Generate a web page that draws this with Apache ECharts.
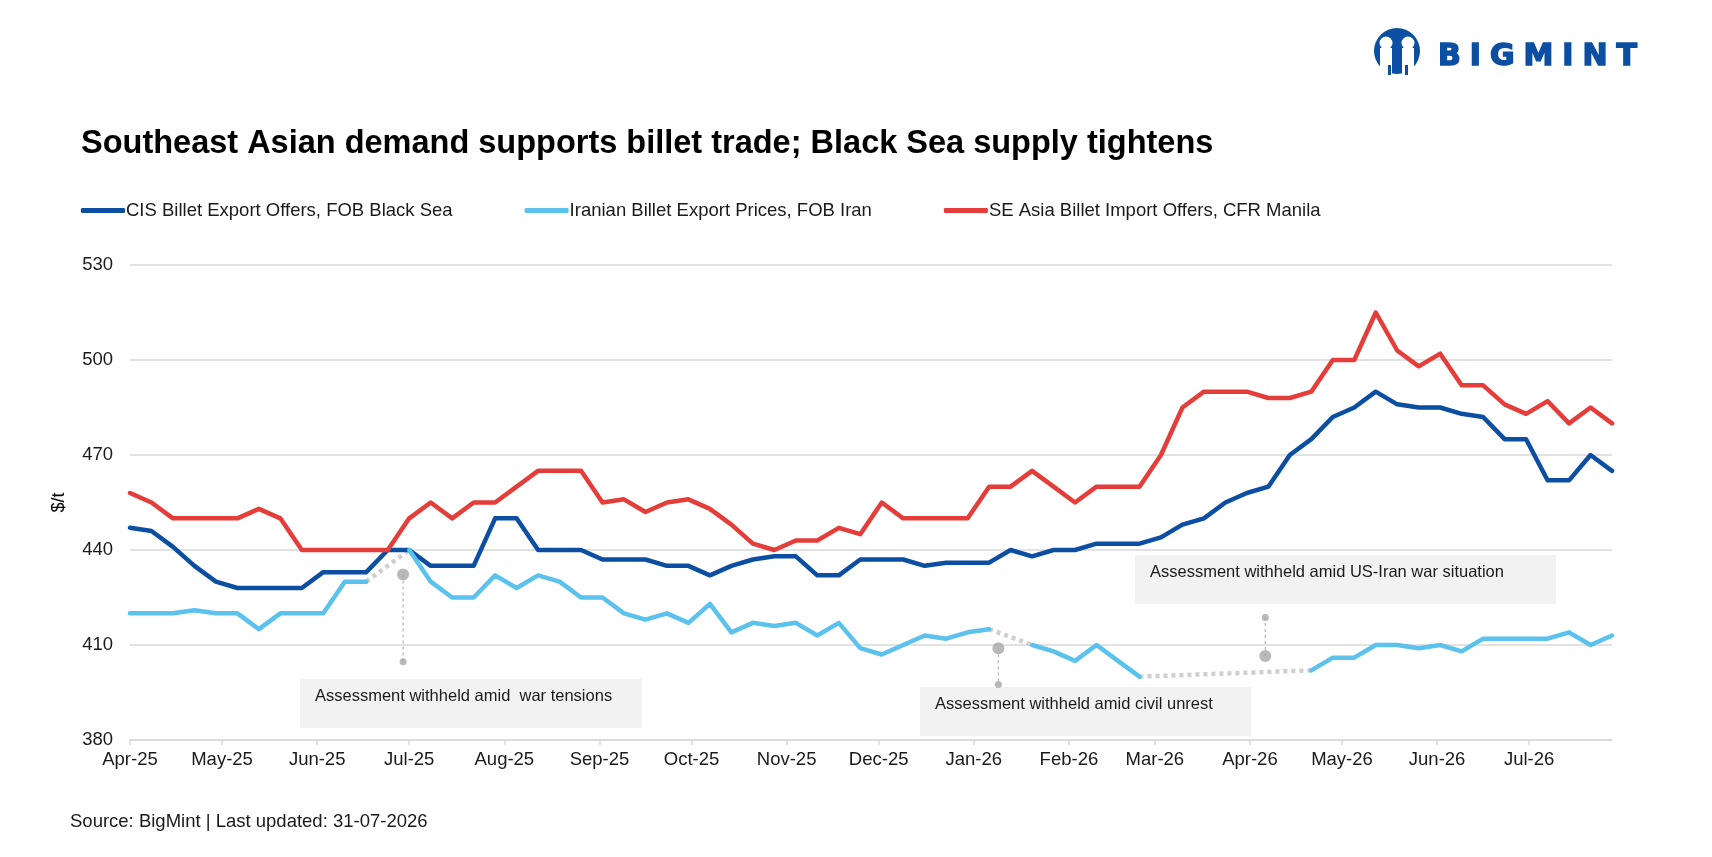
<!DOCTYPE html>
<html>
<head>
<meta charset="utf-8">
<title>Billet prices</title>
<script src="https://cdn.jsdelivr.net/npm/echarts@6/dist/echarts.min.js"></script>
<style>
	html, body { margin: 0; padding: 0; background: #fff; }
	#chart { width: 1712px; height: 857px; }
</style>
</head>
<body>
<div id="chart"></div>
<script>
// weekly assessment dates
var dates = [
	'2025-04-01','2025-04-08','2025-04-15','2025-04-22','2025-04-29',
	'2025-05-06','2025-05-13','2025-05-20','2025-05-27',
	'2025-06-03','2025-06-10','2025-06-17','2025-06-24',
	'2025-07-01','2025-07-08','2025-07-15','2025-07-22','2025-07-29',
	'2025-08-05','2025-08-12','2025-08-19','2025-08-26',
	'2025-09-02','2025-09-09','2025-09-16','2025-09-23','2025-09-30',
	'2025-10-07','2025-10-14','2025-10-21','2025-10-28',
	'2025-11-04','2025-11-11','2025-11-18','2025-11-25',
	'2025-12-02','2025-12-09','2025-12-16','2025-12-23','2025-12-30',
	'2026-01-06','2026-01-13','2026-01-20','2026-01-27',
	'2026-02-03','2026-02-10','2026-02-17','2026-02-24',
	'2026-03-03','2026-03-10','2026-03-17','2026-03-24','2026-03-31',
	'2026-04-07','2026-04-14','2026-04-21','2026-04-28',
	'2026-05-05','2026-05-12','2026-05-19','2026-05-26',
	'2026-06-02','2026-06-09','2026-06-16','2026-06-23','2026-06-30',
	'2026-07-07','2026-07-14','2026-07-21','2026-07-28'
];

var cisOffers = [
	447, 446, 441, 435, 430,
	428, 428, 428, 428,
	433, 433, 433, 440,
	440, 435, 435, 435, 450,
	450, 440, 440, 440,
	437, 437, 437, 435, 435,
	432, 435, 437, 438,
	438, 432, 432, 437,
	437, 437, 435, 436, 436,
	436, 440, 438, 440,
	440, 442, 442, 442,
	444, 448, 450, 455, 458,
	460, 470, 475, 482,
	485, 490, 486, 485,
	485, 483, 482, 475, 475,
	462, 462, 470, 465
];

// null = assessment withheld
var iranPrices = [
	420, 420, 420, 421, 420,
	420, 415, 420, 420,
	420, 430, 430, null,
	440, 430, 425, 425, 432,
	428, 432, 430, 425,
	425, 420, 418, 420, 417,
	423, 414, 417, 416,
	417, 413, 417, 409,
	407, 410, 413, 412, 414,
	415, null, 410, 408,
	405, 410, 405, 400,
	null, null, null, null, null,
	null, null, 402, 406,
	406, 410, 410, 409,
	410, 408, 412, 412, 412,
	412, 414, 410, 413
];

var seAsiaOffers = [
	458, 455, 450, 450, 450,
	450, 453, 450, 440,
	440, 440, 440, 440,
	450, 455, 450, 455, 455,
	460, 465, 465, 465,
	455, 456, 452, 455, 456,
	453, 448, 442, 440,
	443, 443, 447, 445,
	455, 450, 450, 450, 450,
	460, 460, 465, 460,
	455, 460, 460, 460,
	470, 485, 490, 490, 490,
	488, 488, 490, 500,
	500, 515, 503, 498,
	502, 492, 492, 486, 483,
	487, 480, 485, 480
];

var monthTicks = [
	'2025-04-01','2025-05-01','2025-06-01','2025-07-01','2025-08-01','2025-09-01',
	'2025-10-01','2025-11-01','2025-12-01','2026-01-01','2026-02-01','2026-03-01',
	'2026-04-01','2026-05-01','2026-06-01','2026-07-01'
];
var monthLabels = [
	'Apr-25','May-25','Jun-25','Jul-25','Aug-25','Sep-25',
	'Oct-25','Nov-25','Dec-25','Jan-26','Feb-26','Mar-26',
	'Apr-26','May-26','Jun-26','Jul-26'
];

// annotation markers: date, value of big dot, value of small dot
var noteDates = ['2025-06-29', '2026-01-09', '2026-04-06'];
var noteMarks = [432.3, 409, 406.5];
var noteEnds = [404.7, 397.5, 418.7];
var noteTexts = [
	'Assessment withheld amid  war tensions',
	'Assessment withheld amid civil unrest',
	'Assessment withheld amid US-Iran war situation'
];

var seriesNames = [
	'CIS Billet Export Offers, FOB Black Sea',
	'Iranian Billet Export Prices, FOB Iran',
	'SE Asia Billet Import Offers, CFR Manila'
];

var FONT = '"Liberation Sans", Arial, sans-serif';

function toTime(s) {
	var p = s.split('-');
	return new Date(+p[0], +p[1] - 1, +p[2]).getTime();
}

function pairs(values) {
	return dates.map(function (d, i) { return [toTime(d), values[i]]; });
}

// dotted bridges over the withheld weeks
function gapPairs(values) {
	var out = [];
	for (var i = 1; i < values.length; i++) {
		if (values[i] == null && values[i - 1] != null) {
			var j = i;
			while (j < values.length && values[j] == null) j++;
			if (j < values.length) {
				out.push([toTime(dates[i - 1]), values[i - 1]]);
				out.push([toTime(dates[j]), values[j]]);
				out.push([toTime(dates[j]), null]);
			}
		}
	}
	return out;
}

var tickTimes = monthTicks.map(toTime);

var lineBase = { width: 4.5, join: 'round', cap: 'round' };

var series = [
	{
		name: seriesNames[0], type: 'line', data: pairs(cisOffers),
		symbol: 'none', color: '#0b4ea2',
		lineStyle: Object.assign({ color: '#0b4ea2' }, lineBase), z: 3
	},
	{
		name: seriesNames[1], type: 'line', data: pairs(iranPrices),
		symbol: 'none', color: '#5bc2ee', connectNulls: false,
		lineStyle: Object.assign({ color: '#5bc2ee' }, lineBase), z: 3
	},
	{
		name: seriesNames[2], type: 'line', data: pairs(seAsiaOffers),
		symbol: 'none', color: '#e53e3a',
		lineStyle: Object.assign({ color: '#e53e3a' }, lineBase), z: 3
	},
	{
		name: 'gaps', type: 'line', data: gapPairs(iranPrices),
		symbol: 'none', connectNulls: false, silent: true,
		lineStyle: { color: '#cfcfcf', width: 4.5, type: [4, 4], cap: 'butt' }, z: 2
	}
];

noteDates.forEach(function (d, i) {
	series.push({
		name: 'note' + i, type: 'line', symbol: 'none', silent: true,
		data: [[toTime(d), noteMarks[i]], [toTime(d), noteEnds[i]]],
		lineStyle: { color: '#b5b5b5', width: 1.2, type: [3, 3] }, z: 4
	});
});
series.push({
	name: 'noteMarks', type: 'scatter', symbolSize: 12, silent: true,
	itemStyle: { color: '#a8a8a8' }, z: 5,
	data: noteDates.map(function (d, i) { return [toTime(d), noteMarks[i]]; })
});
series.push({
	name: 'noteEnds', type: 'scatter', symbolSize: 7, silent: true,
	itemStyle: { color: '#a8a8a8' }, z: 5,
	data: noteDates.map(function (d, i) { return [toTime(d), noteEnds[i]]; })
});

// note boxes (pixel layout)
var boxLayout = [
	{ x: 300, y: 679, w: 342, h: 49 },
	{ x: 920, y: 687, w: 331, h: 49 },
	{ x: 1135, y: 555, w: 421, h: 49 }
];
var graphics = [];
boxLayout.forEach(function (b, i) {
	graphics.push({
		type: 'rect', shape: { x: b.x, y: b.y, width: b.w, height: b.h },
		style: { fill: '#f2f2f2' }, z: 1
	});
	graphics.push({
		type: 'text', x: b.x + 15, y: b.y + 17, z: 2,
		style: { text: noteTexts[i], font: '16.5px ' + FONT, fill: '#1a1a1a', verticalAlign: 'middle' }
	});
});

// footer
graphics.push({
	type: 'text', x: 70, y: 822,
	style: { text: 'Source: BigMint | Last updated: 31-07-2026', font: '18.5px ' + FONT, fill: '#1a1a1a', verticalAlign: 'middle' }
});

// logo: blue disc with two white figures
var logoBlue = '#0b4ea2';
graphics.push({ type: 'circle', shape: { cx: 1397, cy: 51, r: 23 }, style: { fill: logoBlue } });
graphics.push({ type: 'rect', shape: { x: 1380, y: 48, width: 12, height: 30 }, style: { fill: '#fff' } });
graphics.push({ type: 'rect', shape: { x: 1402, y: 48, width: 12, height: 30 }, style: { fill: '#fff' } });
graphics.push({ type: 'circle', shape: { cx: 1386, cy: 43, r: 6.5 }, style: { fill: '#fff' } });
graphics.push({ type: 'circle', shape: { cx: 1408, cy: 43, r: 6.5 }, style: { fill: '#fff' } });
graphics.push({ type: 'polygon', shape: { points: [[1392, 50], [1402, 50], [1397, 75]] }, style: { fill: logoBlue } });
graphics.push({ type: 'rect', shape: { x: 1388, y: 65, width: 3, height: 10 }, style: { fill: logoBlue } });
graphics.push({ type: 'rect', shape: { x: 1405, y: 65, width: 3, height: 10 }, style: { fill: logoBlue } });
var logoWord = 'BIGMINT';
var logoFont = 'bold 30px "DejaVu Sans", sans-serif';
var ctx = document.createElement('canvas').getContext('2d');
ctx.font = logoFont;
var widths = logoWord.split('').map(function (c) { return ctx.measureText(c).width; });
var total = widths.reduce(function (a, b) { return a + b; }, 0);
var gap = (199 - total) / (logoWord.length - 1);
var lx = 1438;
logoWord.split('').forEach(function (c, i) {
	graphics.push({
		type: 'text', x: lx, y: 57,
		style: { text: c, font: logoFont, fill: logoBlue, stroke: logoBlue, lineWidth: 1.5, verticalAlign: 'middle' }
	});
	lx += widths[i] + gap;
});

var chart = echarts.init(document.getElementById('chart'));
chart.setOption({
	animation: false,
	backgroundColor: '#fff',
	title: {
		text: 'Southeast Asian demand supports billet trade; Black Sea supply tightens',
		left: 76, top: 123,
		textStyle: { fontFamily: FONT, fontSize: 32.5, fontWeight: 'bold', color: '#000' }
	},
	legend: {
		data: seriesNames,
		left: 76, top: 196,
		icon: 'roundRect', itemWidth: 44, itemHeight: 5, itemGap: 72,
		textStyle: { fontFamily: FONT, fontSize: 18.5, color: '#1a1a1a', padding: [0, 0, 0, -4] }
	},
	grid: { left: 130, right: 100, top: 265, bottom: 117, containLabel: false },
	// dates as a value axis in ms so month ticks can be placed exactly
	xAxis: {
		type: 'value',
		min: toTime(dates[0]),
		max: toTime(dates[dates.length - 1]),
		splitLine: { show: false },
		axisLine: { lineStyle: { color: '#d9d9d9', width: 1.5 } },
		axisTick: { show: true, length: 5, customValues: tickTimes, lineStyle: { color: '#d9d9d9', width: 1.5 } },
		axisLabel: {
			customValues: tickTimes,
			fontFamily: FONT, fontSize: 18.5, color: '#1a1a1a', margin: 10,
			formatter: function (v) {
				var best = 0;
				for (var i = 1; i < tickTimes.length; i++) {
					if (Math.abs(tickTimes[i] - v) < Math.abs(tickTimes[best] - v)) best = i;
				}
				return monthLabels[best];
			}
		}
	},
	yAxis: {
		type: 'value',
		min: 380, max: 530, interval: 30,
		name: '$/t', nameLocation: 'middle', nameGap: 62,
		nameTextStyle: { fontFamily: FONT, fontSize: 18, color: '#000' },
		axisLine: { show: false },
		axisTick: { show: false },
		axisLabel: { fontFamily: FONT, fontSize: 18.5, color: '#1a1a1a', margin: 17 },
		splitLine: { lineStyle: { color: '#d9d9d9', width: 1.5 } }
	},
	graphic: graphics,
	series: series
});
</script>
</body>
</html>
